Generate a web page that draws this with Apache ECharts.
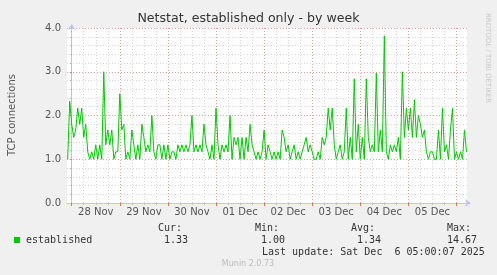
<!DOCTYPE html>
<html>
<head>
<meta charset="utf-8">
<script src="https://cdn.jsdelivr.net/npm/echarts@6/dist/echarts.min.js"></script>
<style>
html,body{margin:0;padding:0;background:#f0f0f0;}
#chart{width:497px;height:275px;}
</style>
</head>
<body>
<div id="chart"></div>
<script>
// Hourly samples starting Nov 27 22:00 (hour -2 relative to Nov 28 00:00)
const startHour = -2;
const established = [
  1.0, 2.33, 1.8, 1.5, 1.67, 2.17, 1.8, 2.17, 1.5, 1.8,
  1.17, 1.0, 1.17, 1.0, 1.33, 1.0, 1.33, 1.0, 3.0, 1.33,
  1.67, 1.33, 1.67, 1.0, 1.17, 1.17, 2.5, 1.67, 1.8, 1.0,
  1.17, 1.0, 1.67, 1.33, 1.0, 1.33, 1.0, 1.8, 1.5, 1.17,
  1.33, 1.17, 2.0, 1.17, 1.0, 1.33, 1.33, 1.0, 1.33, 1.0,
  1.33, 1.0, 1.17, 1.17, 1.0, 1.33, 1.17, 1.33, 1.17, 1.33,
  1.17, 1.33, 2.0, 1.17, 1.33, 1.17, 1.33, 1.17, 1.8, 1.33,
  1.17, 1.0, 1.33, 1.0, 2.17, 1.33, 1.0, 1.33, 1.17, 1.33,
  1.17, 2.0, 1.0, 1.5, 1.33, 1.5, 1.0, 1.5, 1.0, 1.5,
  1.17, 1.8, 1.33, 1.17, 1.0, 1.17, 1.0, 1.17, 1.67, 1.0,
  1.33, 1.17, 1.0, 1.17, 1.0, 1.17, 1.0, 1.67, 1.5, 1.17,
  1.33, 1.0, 1.17, 1.33, 1.0, 1.17, 1.0, 1.17, 1.33, 1.5,
  1.17, 1.33, 1.17, 1.0, 1.0, 1.17, 1.0, 1.5, 1.33, 1.5,
  2.17, 1.67, 2.17, 1.33, 1.0, 1.17, 1.33, 1.0, 1.17, 2.17,
  1.0, 1.5, 1.0, 2.84, 1.17, 1.8, 1.0, 1.5, 1.0, 2.84,
  1.5, 1.17, 1.33, 1.17, 2.97, 1.17, 1.67, 1.17, 3.82, 1.17,
  1.0, 1.33, 1.17, 1.33, 1.17, 1.5, 1.0, 3.0, 1.5, 2.17,
  1.67, 2.17, 1.5, 2.36, 1.5, 2.0, 1.8, 1.5, 1.67, 1.17,
  1.0, 1.17, 1.17, 1.0, 1.0, 1.67, 1.0, 2.17, 1.17, 1.33,
  1.0, 1.67, 2.17, 1.0, 1.17, 1.0, 1.17, 1.0, 1.67, 1.17
];
const dayLabels = ['28 Nov','29 Nov','30 Nov','01 Dec','02 Dec','03 Dec','04 Dec','05 Dec'];
const dayHours = [0, 24, 48, 72, 96, 120, 144, 168, 192];
const labelHours = [12, 36, 60, 84, 108, 132, 156, 180];
const quarterHours = [6, 12, 18, 30, 36, 42, 54, 60, 66, 78, 84, 90, 102, 108, 114, 126, 132, 138, 150, 156, 162, 174, 180, 186];
const xMin = -2.35, xMax = 197.25;

const legendName = 'established';
const statHeads = ['Cur:', 'Min:', 'Avg:', 'Max:'];
const statValues = ['1.33', '1.00', '1.34', '14.67'];
const lastUpdate = 'Last update: Sat Dec  6 05:00:07 2025';
const titleText = 'Netstat, established only - by week';
const yName = 'TCP connections';
const footer = 'Munin 2.0.73';
const sideText = 'RRDTOOL / TOBI OETIKER';

const chart = echarts.init(document.getElementById('chart'), null, {renderer: 'canvas'});
const sans = 'DejaVu Sans';
const mono = 'DejaVu Sans Mono';
const data = established.map((v, i) => [startHour + i, v]);

const statX = [[158, 164], [255, 261], [351, 357], [447, 447]];
const graphics = [
  {type:'text', x: 248.5, y: 19, style:{text: titleText, font: '12.6px ' + sans, fill:'#333', align:'center', verticalAlign:'middle'}},
  {type:'text', x: 12, y: 115, rotation: Math.PI/2, style:{text: yName, font:'10px ' + sans, fill:'#555', align:'center', verticalAlign:'middle'}},
  {type:'text', x: 488, y: 58, rotation: -Math.PI/2, style:{text: sideText, font:'7px ' + sans, fill:'#c8c8c8', align:'center', verticalAlign:'middle'}},
  {type:'rect', shape:{x:14, y:237, width:6, height:6}, style:{fill:'#00cc00'}},
  {type:'text', x: 26, y: 240, style:{text: legendName, font:'10px ' + mono, fill:'#333', verticalAlign:'middle'}},
  {type:'text', x: 262, y: 252, style:{text: lastUpdate, font:'10px ' + mono, fill:'#333', verticalAlign:'middle'}},
  {type:'text', x: 248, y: 264, style:{text: footer, font:'8px ' + sans, fill:'#bbb', align:'center', verticalAlign:'middle'}}
];
statHeads.forEach((h, i) => {
  graphics.push({type:'text', x: statX[i][0], y: 228, style:{text: h, font:'10px ' + mono, fill:'#333', verticalAlign:'middle'}});
  graphics.push({type:'text', x: statX[i][1], y: 240, style:{text: statValues[i], font:'10px ' + mono, fill:'#333', verticalAlign:'middle'}});
});

chart.setOption({
  backgroundColor: '#f0f0f0',
  animation: false,
  grid: {left: 67, top: 28, width: 400, height: 175, show: true, backgroundColor: '#ffffff', borderWidth: 0},
  xAxis: [
    {
      type: 'value', min: xMin, max: xMax, position: 'bottom', z: 1,
      axisLine: {show: false},
      axisTick: {show: true, customValues: quarterHours, length: 2, lineStyle: {color: '#bbbbbb'}},
      axisLabel: {show: false},
      splitLine: {show: true, lineStyle: {color: '#d6d6d6', width: 1, type: [1, 2]}}
    },
    {
      type: 'value', min: xMin, max: xMax, position: 'bottom', z: 2,
      axisLine: {show: true, lineStyle: {color: '#c4c4ec', width: 1}, symbol: ['none', 'arrow'], symbolSize: [6, 6], symbolOffset: [0, 4]},
      axisTick: {show: true, customValues: dayHours, length: 3, lineStyle: {color: '#e07070'}},
      axisLabel: {
        show: true, customValues: labelHours, color: '#555', fontSize: 10, fontFamily: sans, margin: 4,
        formatter: v => dayLabels[labelHours.indexOf(Math.round(v))] || ''
      },
      splitLine: {show: true, lineStyle: {color: '#e6a0a0', width: 1, type: [1, 2]}}
    }
  ],
  yAxis: {
    type: 'value', min: 0, max: 4, interval: 1,
    axisLine: {show: true, lineStyle: {color: '#c4c4ec', width: 1}, symbol: ['none', 'arrow'], symbolSize: [6, 6], symbolOffset: [0, 4]},
    axisTick: {show: true, length: 2, lineStyle: {color: '#e07070'}},
    minorTick: {show: true, splitNumber: 5, length: 2, lineStyle: {color: '#bbbbbb'}},
    axisLabel: {color: '#555', fontSize: 10, fontFamily: sans, margin: 6, formatter: v => v.toFixed(1)},
    splitLine: {show: true, lineStyle: {color: '#e6a0a0', width: 1, type: [1, 2]}},
    minorSplitLine: {show: true, lineStyle: {color: '#d6d6d6', width: 1, type: [1, 2]}}
  },
  series: [{
    type: 'line', name: legendName, data: data, xAxisIndex: 0, z: 5,
    showSymbol: false, symbol: 'none',
    lineStyle: {color: '#00cc00', width: 1},
    itemStyle: {color: '#00cc00'}
  }],
  graphic: graphics
});
</script>
</body>
</html>
